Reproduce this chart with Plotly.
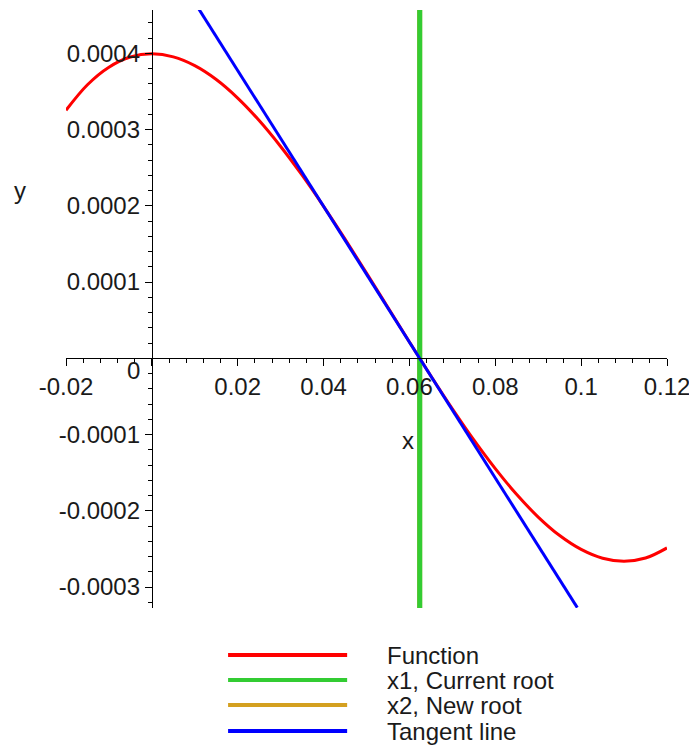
import plotly.graph_objects as go

# ---- data ----
func_x = [-0.020, -0.015, -0.010, -0.005, 0.000, 0.005, 0.010, 0.015, 0.020, 0.025,
          0.030, 0.035, 0.040, 0.045, 0.050, 0.055, 0.060, 0.065, 0.070, 0.075,
          0.080, 0.085, 0.090, 0.095, 0.100, 0.105, 0.110, 0.115, 0.120]
func_y = [0.0003253, 0.0003588, 0.0003818, 0.0003951, 0.0003993, 0.0003953, 0.0003838,
          0.0003656, 0.0003413, 0.0003118, 0.0002778, 0.0002401, 0.0001993, 0.0001563,
          0.0001118, 0.0000666, 0.0000213, -0.0000232, -0.0000662, -0.0001070,
          -0.0001447, -0.0001787, -0.0002082, -0.0002325, -0.0002507, -0.0002622,
          -0.0002662, -0.0002620, -0.0002487]

x1_root = [0.0624, 0.0624]
x1_y = [-0.000328, 0.000457]
x2_root = [0.06238, 0.06238]
x2_y = [-0.000328, 0.000457]

tangent_x = [0.0105, 0.0991]
tangent_y = [0.000462, -0.000327]

x_ticks = [-0.02, 0, 0.02, 0.04, 0.06, 0.08, 0.1, 0.12]
x_tick_labels = ["-0.02", "", "0.02", "0.04", "0.06", "0.08", "0.1", "0.12"]
y_ticks = [-0.0003, -0.0002, -0.0001, 0, 0.0001, 0.0002, 0.0003, 0.0004]
y_tick_labels = ["-0.0003", "-0.0002", "-0.0001", "", "0.0001", "0.0002", "0.0003", "0.0004"]

legend_names = ["Function", "x1, Current root", "x2, New root", "Tangent line"]
legend_colors = ["#FF0000", "#33CC33", "#D4A020", "#0000FF"]

x_range = [-0.02, 0.12]
y_range = [-0.0003275, 0.0004568]

FONT = "Liberation Sans, Arial, sans-serif"
FS = 24
TXT = "#1a1a1a"
OFF = 8                       # page body margin of the browser
W, H = 697 - OFF, 746 - OFF
PW, PH = 600.7, 598.0
ML, MT = 66 - OFF, 10 - OFF
MR = W - ML - PW
MB = H - MT - PH


def px2paper(px, py):
    """target-screenshot pixel -> paper coordinates"""
    return (px - OFF - ML) / PW, (MT + PH - (py - OFF)) / PH


fig = go.Figure()
fig.add_trace(go.Scatter(x=func_x, y=func_y, mode="lines", name=legend_names[0],
                         line=dict(color=legend_colors[0], width=3, shape="spline"),
                         showlegend=False))
fig.add_trace(go.Scatter(x=x2_root, y=x2_y, mode="lines", name=legend_names[2],
                         line=dict(color=legend_colors[2], width=5), showlegend=False))
fig.add_trace(go.Scatter(x=x1_root, y=x1_y, mode="lines", name=legend_names[1],
                         line=dict(color=legend_colors[1], width=5), showlegend=False))
fig.add_trace(go.Scatter(x=tangent_x, y=tangent_y, mode="lines", name=legend_names[3],
                         line=dict(color=legend_colors[3], width=3), showlegend=False))

x_zero_pos = (0 - x_range[0]) / (x_range[1] - x_range[0])
y_zero_pos = (0 - y_range[0]) / (y_range[1] - y_range[0])

axis_common = dict(showgrid=False, zeroline=False, showline=True, linecolor="black",
                   linewidth=1, ticks="outside", tickcolor="black", ticklen=7,
                   tickfont=dict(family=FONT, size=FS, color=TXT),
                   tickmode="array", anchor="free", automargin=False)

fig.update_layout(
    width=W, height=H,
    margin=dict(l=ML, r=MR, t=MT, b=MB),
    paper_bgcolor="white", plot_bgcolor="white",
    showlegend=False,
    xaxis=dict(range=x_range, tickvals=x_ticks, ticktext=x_tick_labels,
               position=y_zero_pos,
               minor=dict(dtick=0.004, tick0=0, ticklen=4, ticks="outside", tickcolor="black"),
               **axis_common),
    yaxis=dict(range=y_range, tickvals=y_ticks, ticktext=y_tick_labels,
               position=x_zero_pos,
               minor=dict(dtick=0.00002, tick0=0, ticklen=4, ticks="outside", tickcolor="black"),
               **axis_common),
)

annots = []
for txt, (px, py) in [("x", (408, 440)), ("y", (20, 190)), ("0", (133, 370))]:
    ax, ay = px2paper(px, py)
    annots.append(dict(text=txt, x=ax, y=ay, xref="paper", yref="paper", showarrow=False,
                       xanchor="center", yanchor="middle",
                       font=dict(family=FONT, size=FS, color=TXT)))

# custom legend (long line samples as in the original)
shapes = []
legend_rows_py = [655, 680, 705, 731]
for name, color, py in zip(legend_names, legend_colors, legend_rows_py):
    x0, y0 = px2paper(228, py)
    x1, _ = px2paper(347, py)
    shapes.append(dict(type="line", xref="paper", yref="paper", x0=x0, x1=x1, y0=y0, y1=y0,
                       line=dict(color=color, width=4)))
    tx, _ = px2paper(385, py)
    annots.append(dict(text=name, x=tx, y=y0, xref="paper", yref="paper", showarrow=False,
                       xanchor="left", yanchor="middle",
                       font=dict(family=FONT, size=FS, color=TXT)))

fig.update_layout(annotations=annots, shapes=shapes)
fig.write_html("out.html")
